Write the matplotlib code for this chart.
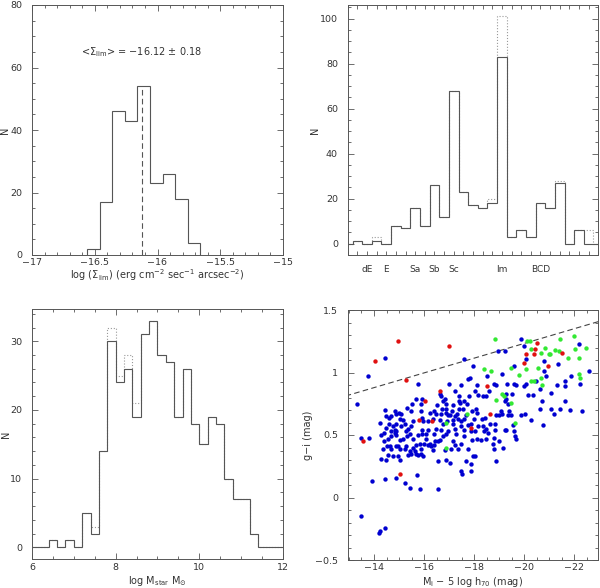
import numpy as np
import matplotlib
matplotlib.use('Agg')
import matplotlib.pyplot as plt
from matplotlib.ticker import MultipleLocator, FixedLocator

# ---- top left: limiting surface brightness
sb_edges = [-16.56, -16.46, -16.36, -16.26, -16.16, -16.06, -15.96, -15.86, -15.76, -15.66]
sb_counts = [2, 17, 46, 43, 54, 23, 26, 18, 4]
sb_mean = -16.12
sb_mean_top = 54

# ---- top right: morphological type
type_counts = [0, 1, 0, 1, 0, 8, 7, 16, 8, 26, 12, 68, 23, 17, 16, 18, 83,
               3, 6, 3, 18, 16, 27, 0, 6, 0, 0]
type_counts_all = [0, 1, 0, 3, 0, 8, 7, 16, 8, 26, 12, 68, 23, 17, 16, 20, 101,
                   3, 6, 3, 18, 16, 28, 0, 6, 6, 0]
type_names = ['dE', 'E', 'Sa', 'Sb', 'Sc', 'Im', 'BCD']
type_name_pos = [2, 4, 7, 9, 11, 16, 20]

# ---- bottom left: stellar mass
mass_edges = [6.0, 6.2, 6.4, 6.6, 6.8, 7.0, 7.2, 7.4, 7.6, 7.8, 8.0, 8.2, 8.4, 8.6, 8.8,
              9.0, 9.2, 9.4, 9.6, 9.8, 10.0, 10.2, 10.4, 10.6, 10.8, 11.0, 11.2, 11.4,
              11.6, 11.8, 12.0]
mass_counts = [0, 0, 1, 0, 1, 0, 5, 2, 14, 30, 24, 26, 19, 31, 33, 28, 27, 19, 26, 18,
               15, 19, 18, 10, 7, 7, 2, 0, 0, 0]
mass_counts_all = [0, 0, 1, 0, 1, 0, 5, 3, 14, 32, 25, 28, 21, 31, 33, 28, 27, 19, 26, 18,
                   15, 19, 18, 10, 7, 7, 2, 0, 0, 0]

# ---- bottom right: colour-magnitude
blue_mag = [-14.42, -13.78, -13.31, -13.47, -13.80, -13.93, -14.42, -13.47, -14.18, -14.22,
            -14.45, -15.82, -15.42, -16.55, -15.73, -15.22, -14.86,
            -14.26, -14.49, -14.56, -14.76, -14.95, -15.02, -15.35, -15.42, -15.49, -15.69,
            -15.75, -15.95, -15.89, -16.55, -16.88, -17.02, -17.48, -17.52, -17.68, -17.88,
            -18.01,
            -14.26, -14.56, -14.62, -14.69, -14.89, -14.95, -15.02, -15.26, -14.86, -14.89,
            -15.02, -15.15, -15.33, -15.42, -15.55, -15.75, -15.93, -16.09, -15.98, -16.15,
            -16.22, -16.38, -16.42, -16.62, -16.75, -16.88, -17.15, -17.22, -17.28, -17.61,
            -17.88, -17.92, -15.55, -15.69, -15.82, -15.89,
            -14.40, -14.36, -14.50, -14.69, -14.82, -14.38, -15.22, -15.62, -16.28, -16.55,
            -16.82, -16.35, -17.08, -17.48, -17.75, -17.35,
            -17.61, -17.95, -17.84, -17.75, -17.48, -15.75, -16.98, -16.62, -16.68, -16.82,
            -16.75, -17.22, -17.41, -17.45, -17.61, -17.71, -17.81, -18.01, -15.66, -15.93,
            -15.86, -15.53, -15.31, -15.09, -14.82, -14.69, -14.22, -14.46, -14.98, -15.02,
            -15.15, -14.89, -15.22, -15.06, -15.35, -14.82, -14.66, -15.26, -15.49, -15.55,
            -15.93, -15.95, -16.15, -16.22, -16.35, -16.38, -16.48, -16.51, -16.71, -16.86,
            -16.68, -16.88, -16.95, -17.04, -17.12, -17.22, -17.32, -17.35, -17.48, -17.61,
            -17.68, -17.57, -17.41, -17.39, -17.15, -17.15, -16.91, -16.75, -16.62, -16.46,
            -16.68, -16.15, -15.93, -16.09, -16.38, -16.95, -17.22, -17.48, -17.61, -17.75,
            -17.88, -16.88, -17.15, -17.92, -17.99, -15.89, -15.49,
            -14.42, -14.49, -14.58, -14.58, -14.76, -14.89,
            -18.94, -19.21, -19.85, -19.97, -20.07, -19.58, -20.78, -20.78, -20.87, -21.34,
            -21.87, -22.20, -22.58, -22.18, -18.12, -18.15, -18.35, -18.48, -18.52, -18.57,
            -18.78, -18.88, -19.10, -19.30, -19.25, -19.21, -19.34, -19.28, -19.52, -19.58,
            -19.68, -19.97, -20.05, -20.14, -20.34, -20.45, -20.63, -21.05, -21.31, -21.63,
            -21.64, -18.08, -18.12, -18.32, -18.44, -18.61, -18.81, -18.88, -18.97, -19.05,
            -19.10, -19.34, -19.38, -19.48, -19.88, -20.01, -20.25, -20.61, -20.70, -21.07,
            -21.18, -21.44, -21.63, -21.84, -20.74, -18.15, -18.35, -18.48, -18.39, -18.81,
            -19.21, -19.54, -22.30,
            -18.01, -18.54, -19.28, -19.58, -19.64, -19.68, -18.12, -18.25, -18.45, -18.78,
            -18.74, -18.98, -18.78, -19.14, -17.95, -18.88, -17.88]
blue_col = [1.12, 0.97, 0.75, 0.48, 0.48, 0.13, 0.15, -0.15, -0.28, -0.27,
            -0.24, 0.07, 0.08, 0.07, 0.18, 0.12, 0.16,
            0.31, 0.30, 0.34, 0.33, 0.33, 0.30, 0.34, 0.37, 0.35, 0.35,
            0.34, 0.33, 0.35, 0.29, 0.30, 0.28, 0.21, 0.19, 0.29, 0.27,
            0.33,
            0.50, 0.47, 0.41, 0.39, 0.41, 0.41, 0.39, 0.41, 0.53, 0.50,
            0.46, 0.47, 0.49, 0.51, 0.47, 0.50, 0.51, 0.47, 0.43, 0.42,
            0.43, 0.42, 0.45, 0.46, 0.49, 0.51, 0.45, 0.42, 0.51, 0.49,
            0.53, 0.46, 0.40, 0.42, 0.43, 0.39,
            0.45, 0.39, 0.41, 0.49, 0.52, 0.52, 0.39, 0.37, 0.41, 0.45,
            0.38, 0.38, 0.39, 0.43, 0.39, 0.39,
            1.11, 1.05, 0.96, 0.95, 0.90, 0.91, 0.91, 0.83, 0.81, 0.79,
            0.77, 0.85, 0.81, 0.76, 0.77, 0.75, 0.81, 0.85, 0.79, 0.79,
            0.75, 0.75, 0.72, 0.67, 0.69, 0.65, 0.60, 0.56, 0.68, 0.63,
            0.62, 0.59, 0.59, 0.57, 0.55, 0.54, 0.53, 0.53, 0.57, 0.61,
            0.64, 0.61, 0.61, 0.68, 0.63, 0.69, 0.67, 0.74, 0.71, 0.71,
            0.67, 0.68, 0.66, 0.66, 0.69, 0.65, 0.67, 0.63, 0.61, 0.63,
            0.66, 0.71, 0.71, 0.77, 0.62, 0.59, 0.61, 0.59, 0.62, 0.55,
            0.54, 0.54, 0.54, 0.51, 0.51, 0.53, 0.55, 0.57, 0.54, 0.58,
            0.59, 0.75, 0.74, 0.69, 0.63, 0.69, 0.69,
            0.70, 0.65, 0.64, 0.59, 0.57, 0.67,
            1.17, 1.17, 1.27, 1.21, 1.11, 1.05, 1.09, 1.01, 0.97, 1.07,
            0.97, 0.91, 1.01, 1.23, 0.90, 0.82, 0.81, 0.81, 0.97, 0.85,
            0.91, 0.90, 0.99, 0.91, 0.83, 0.77, 0.75, 0.79, 0.83, 0.91,
            0.90, 0.89, 0.91, 0.82, 0.82, 0.93, 0.87, 0.84, 0.90, 0.89,
            0.93, 0.71, 0.68, 0.63, 0.64, 0.59, 0.59, 0.66, 0.66, 0.69,
            0.67, 0.66, 0.69, 0.66, 0.66, 0.67, 0.62, 0.71, 0.77, 0.71,
            0.67, 0.71, 0.77, 0.70, 0.58, 0.57, 0.57, 0.55, 0.53, 0.54,
            0.54, 0.58, 0.69,
            0.53, 0.52, 0.54, 0.53, 0.49, 0.47, 0.47, 0.46, 0.47, 0.48,
            0.43, 0.45, 0.39, 0.40, 0.33, 0.29, 0.21]

green_mag = [-18.81, -20.09, -20.21, -20.25, -20.81, -21.01, -21.21, -21.37, -21.41, -22.00,
             -22.03, -22.47, -21.74, -22.16, -18.39, -18.65, -19.48, -19.78, -20.07, -20.54,
             -20.67, -20.71, -20.27, -20.37, -22.16, -22.20, -19.10, -19.18, -18.85, -19.48,
             -19.61, -17.72, -16.86, -16.86, -20.97, -20.65]
green_col = [1.27, 1.25, 1.25, 1.19, 1.20, 1.15, 1.18, 1.17, 1.27, 1.29,
             1.19, 1.20, 1.12, 1.12, 1.03, 1.01, 1.04, 0.98, 1.03, 1.04,
             0.96, 0.90, 0.93, 0.93, 0.99, 0.96, 0.83, 0.81, 0.78, 0.76,
             0.60, 0.67, 0.60, 0.40, 1.15, 1.16]

red_mag = [-14.96, -14.02, -17.01, -15.29, -16.05, -16.62, -15.79, -16.32, -17.86, -13.57,
           -15.02, -18.52, -18.61, -19.98, -20.08, -20.37, -20.41, -20.50, -20.96, -21.50]
red_col = [1.25, 1.09, 1.21, 0.94, 0.77, 0.85, 0.62, 0.61, 0.56, 0.45,
           0.19, 0.89, 0.67, 1.08, 1.15, 1.15, 1.19, 1.24, 1.05, 1.16]

cut_slope = -0.059
cut_icept = 0.053

frame_col = '#555555'
text_col = '#333333'
line_col = '#555555'


def style(ax):
    ax.tick_params(which='both', direction='in', top=True, right=True,
                   color=frame_col, labelcolor=text_col, labelsize=6.8, width=0.6)
    ax.tick_params(which='major', length=4)
    ax.tick_params(which='minor', length=2)
    ax.tick_params(axis='y', pad=7)
    ax.tick_params(axis='x', pad=2.5)
    for s in ax.spines.values():
        s.set_color(frame_col)
        s.set_linewidth(0.7)


def put_xlabel(ax, text, ypos):
    ax.set_xlabel(text, fontsize=7, color=text_col)
    ax.xaxis.label.set_va('center')
    ax.xaxis.set_label_coords(0.5, ypos)


fig = plt.figure(figsize=(6, 5.88), dpi=100)
W, H = 600.0, 588.0
ax1 = fig.add_axes([32 / W, 1 - 255 / H, 251 / W, 250 / H])
ax2 = fig.add_axes([347.7 / W, 1 - 255 / H, 250.6 / W, 250 / H])
ax3 = fig.add_axes([32 / W, 1 - 559.3 / H, 251 / W, 250 / H])
ax4 = fig.add_axes([347.7 / W, 1 - 560 / H, 250.6 / W, 250 / H])

# top left
style(ax1)
ax1.stairs(sb_counts, sb_edges, color=line_col, lw=0.8)
ax1.vlines(sb_mean, 0, sb_mean_top, colors=line_col, linestyles=(0, (5, 3)), lw=0.8)
ax1.set_xlim(-17, -15)
ax1.set_ylim(0, 80)
ax1.xaxis.set_minor_locator(MultipleLocator(0.1))
ax1.yaxis.set_major_locator(MultipleLocator(20))
ax1.yaxis.set_minor_locator(MultipleLocator(5))
ax1.set_xticks([-17, -16.5, -16, -15.5, -15])
ax1.set_xticklabels(['\u221217', '\u221216.5', '\u221216', '\u221215.5', '\u221215'])
ax1.text(-16.13, 65, '<$\\Sigma_{\\rm lim}$> = \u221216.12 $\\pm$ 0.18',
         ha='center', va='center', fontsize=7, color=text_col)
put_xlabel(ax1, r'log ($\Sigma_{\rm lim}$) (erg cm$^{-2}$ sec$^{-1}$ arcsec$^{-2}$)', -0.08)
ax1.set_ylabel('N', fontsize=7, color=text_col)
ax1.yaxis.set_label_coords(-0.088, 0.5)

# top right
style(ax2)
type_edges = np.arange(len(type_counts) + 1) - 0.5
ax2.stairs(type_counts_all, type_edges, color='#999999', lw=0.8, linestyle=':')
ax2.stairs(type_counts, type_edges, color=line_col, lw=0.8)
ax2.set_xlim(0, 26)
ax2.set_ylim(-5, 106)
ax2.xaxis.set_major_locator(FixedLocator(range(27)))
tick_text = [''] * 27
for p, n in zip(type_name_pos, type_names):
    tick_text[p] = n
ax2.set_xticklabels(tick_text, fontsize=6.5)
ax2.tick_params(axis='x', which='major', length=3, pad=7)
ax2.yaxis.set_major_locator(MultipleLocator(20))
ax2.yaxis.set_minor_locator(MultipleLocator(5))
ax2.set_ylabel('N', fontsize=7, color=text_col)
ax2.yaxis.set_label_coords(-0.11, 0.5)

# bottom left
style(ax3)
ax3.stairs(mass_counts_all, mass_edges, color='#999999', lw=0.8, linestyle=':')
ax3.stairs(mass_counts, mass_edges, color=line_col, lw=0.8)
ax3.set_xlim(6, 12)
ax3.set_ylim(-1.75, 34.65)
ax3.xaxis.set_major_locator(MultipleLocator(2))
ax3.xaxis.set_minor_locator(MultipleLocator(0.5))
ax3.yaxis.set_major_locator(MultipleLocator(10))
ax3.yaxis.set_minor_locator(MultipleLocator(2))
put_xlabel(ax3, r'log M$_{\rm star}$ M$_{\odot}$', -0.085)
ax3.set_ylabel('N', fontsize=7, color=text_col)
ax3.yaxis.set_label_coords(-0.085, 0.5)

# bottom right
style(ax4)
ax4.scatter(blue_mag, blue_col, s=10, c='#0000d0', linewidths=0, zorder=3)
ax4.scatter(green_mag, green_col, s=10, c='#33e833', linewidths=0, zorder=4)
ax4.scatter(red_mag, red_col, s=10, c='#e01010', linewidths=0, zorder=5)
ax4.axline((0, cut_icept), slope=cut_slope, color='#444444', lw=0.8,
           linestyle=(0, (5, 3)), zorder=2)
ax4.set_xlim(-12.95, -22.95)
ax4.set_ylim(-0.5, 1.5)
ax4.xaxis.set_minor_locator(MultipleLocator(0.5))
ax4.yaxis.set_minor_locator(MultipleLocator(0.1))
ax4.set_xticks([-14, -16, -18, -20, -22])
ax4.set_xticklabels(['\u221214', '\u221216', '\u221218', '\u221220', '\u221222'])
ax4.set_yticks([-0.5, 0, 0.5, 1, 1.5])
ax4.set_yticklabels(['\u22120.5', '0', '0.5', '1', '1.5'])
put_xlabel(ax4, 'M$_{\\rm i}$ \u2212 5 log h$_{70}$ (mag)', -0.088)
ax4.set_ylabel('g\u2212i (mag)', fontsize=7, color=text_col)
ax4.yaxis.set_label_coords(-0.138, 0.5)

fig.savefig('out.png', dpi=100)
